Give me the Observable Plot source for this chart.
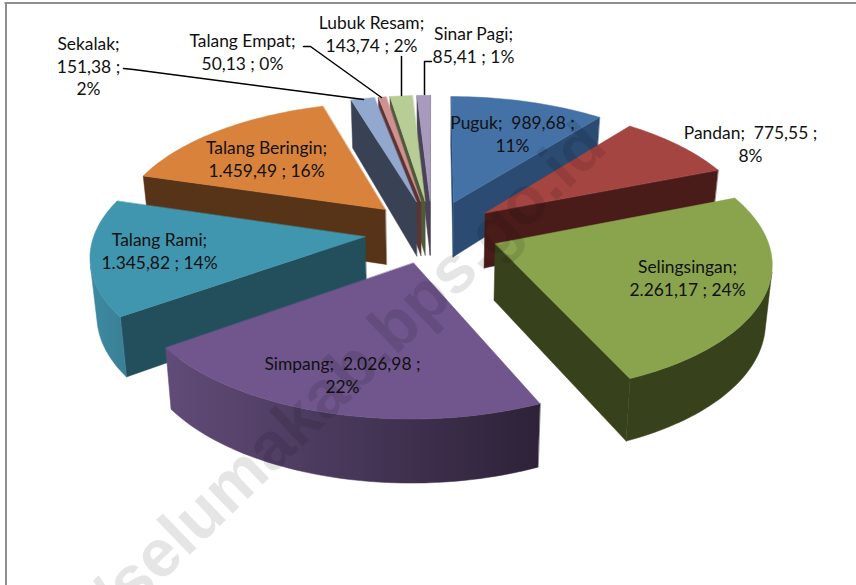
<!DOCTYPE html>
<html>
<head>
<meta charset="utf-8">
<script src="https://cdn.jsdelivr.net/npm/d3@7"></script>
<script src="https://cdn.jsdelivr.net/npm/@observablehq/plot@0.6"></script>
<style>html,body{margin:0;padding:0;background:#fff}svg{display:block}</style>
</head>
<body>
<div id="chart"></div>
<script>
// Data
const categories = ["Puguk","Pandan","Selingsingan","Simpang","Talang Rami","Talang Beringin","Sekalak","Talang Empat","Lubuk Resam","Sinar Pagi"];
const values = [989.68,775.55,2261.17,2026.98,1345.82,1459.49,151.38,50.13,143.74,85.41];
const valueLabels = ["989,68","775,55","2.261,17","2.026,98","1.345,82","1.459,49","151,38","50,13","143,74","85,41"];
const percents = ["11%","8%","24%","22%","14%","16%","2%","0%","2%","1%"];

// Styles
const topColors = ["#4472a6","#a54542","#89a44d","#70568d","#4096ae","#d9823c","#92a8ce","#d09291","#b8cc95","#a89abc"];
const radialColors = ["#2b4b72","#491c1a","#37421c","#3a2c4a","#234f5c","#573417","#394255","#5c3433","#4f5a3a","#4a4358"];
const arcColors = [["#2b4b72","#2b4b72"],["#491c1a","#491c1a"],["#37421c","#37421c"],["#614b78","#2d2238"],["#3c8ba1","#3a7f96"],["#573417","#573417"],["#394255","#394255"],["#5c3433","#5c3433"],["#4f5a3a","#4f5a3a"],["#4a4358","#4a4358"]];

// Label layout: centre of each text block, line-break style
const labelX = [512,750,687,342,159,266,88,242,371,473];
const labelY = [133,143,277,374,250,158,65,51,33,44];
const breakStyle = [1,1,0,1,0,0,2,0,0,0];
const leaders = [
  [[123,68],[133,69],[363,99]],
  [[303,46],[310,46],[381,97]],
  [[401,56],[401,95]],
  [[431,61],[424,61],[424,94]]
];

// 3D pie projection
const W = 856, H = 585;
const cx = 431.5, cy = 231, rx = 270, ry = 126.7, k = 0.13, explode = 0.25, shrink = 0.98;
const projTop = (u, v) => { const w = 1 - k * v; return [cx + rx * u / w, cy + ry * v / w]; };
const projBot = (u, v) => { const p = projTop(u, v); return [cx + (p[0] - cx) * shrink, p[1] + 56 + 6.5 * v]; };
const total = d3.sum(values);

let cum = 0;
const slices = values.map((val, i) => {
  const a0 = cum / total * 2 * Math.PI; cum += val;
  const a1 = cum / total * 2 * Math.PI;
  const m = (a0 + a1) / 2;
  return {i, a0, a1, ou: Math.sin(m) * explode, ov: -Math.cos(m) * explode};
});

const points = [];
let faceId = 0;
function addFace(pts, color) {
  const id = faceId++;
  for (const p of pts) points.push({x: p[0], y: p[1], id, color});
}
const area = q => d3.sum(q, (p, j) => { const n = q[(j + 1) % q.length]; return p[0] * n[1] - n[0] * p[1]; });
const isFront = (a, b) => area([projTop(...a), projTop(...b), projBot(...b), projBot(...a)]) < 0;
function addWall(a, b, color) {
  if (isFront(a, b)) addFace([projTop(...a), projTop(...b), projBot(...b), projBot(...a)], color);
}

const gradients = [];
const order = d3.range(slices.length).sort((p, q) => slices[p].ov - slices[q].ov);
for (const idx of order) {
  const s = slices[idx];
  const apex = [s.ou, s.ov];
  const n = Math.max(2, Math.ceil((s.a1 - s.a0) / 0.025));
  const rim = d3.range(n + 1).map(j => {
    const a = s.a0 + (s.a1 - s.a0) * j / n;
    return [s.ou + Math.sin(a), s.ov - Math.cos(a)];
  });
  addWall(apex, rim[0], radialColors[idx]);
  addWall(rim[n], apex, radialColors[idx]);
  // The visible part of the rounded wall, as one polygon with a horizontal gradient
  const run = [];
  for (let j = 0; j < n; j++) {
    if (isFront(rim[j], rim[j + 1])) {
      if (!run.length) run.push(rim[j]);
      run.push(rim[j + 1]);
    }
  }
  if (run.length) {
    const poly = [...run.map(p => projTop(...p)), ...run.slice().reverse().map(p => projBot(...p))];
    const [x0, x1] = d3.extent(poly, p => p[0]);
    gradients.push({id: `arc${idx}`, x0, x1, from: arcColors[idx][0], to: arcColors[idx][1]});
    addFace(poly, `url(#arc${idx})`);
  }
  addFace([apex, ...rim].map(p => projTop(...p)), topColors[idx]);
}

const labels = categories.map((c, i) => {
  const v = valueLabels[i], p = percents[i];
  const text = breakStyle[i] === 0 ? `${c};\n${v} ; ${p}`
             : breakStyle[i] === 1 ? `${c};  ${v} ;\n${p}`
             : `${c};\n${v} ;\n${p}`;
  return {x: labelX[i], y: labelY[i], text};
});
const leaderPts = leaders.flatMap((l, id) => l.map(p => ({x: p[0], y: p[1], id})));

function gradientDefs() {
  const defs = d3.create("svg:defs");
  for (const g of gradients) {
    const lg = defs.append("linearGradient").attr("id", g.id).attr("gradientUnits", "userSpaceOnUse")
      .attr("x1", g.x0).attr("x2", g.x1).attr("y1", 0).attr("y2", 0);
    lg.append("stop").attr("offset", 0).attr("stop-color", g.from);
    lg.append("stop").attr("offset", 1).attr("stop-color", g.to);
  }
  return defs.node();
}

const plot = Plot.plot({
  width: W, height: H,
  margin: 0,
  x: {domain: [0, W], range: [0, W], axis: null},
  y: {domain: [H, 0], range: [H, 0], axis: null},
  color: {type: "identity"},
  marks: [
    gradientDefs,
    Plot.ruleX([5.5], {y1: 2, y2: H, stroke: "#8e8e8e", strokeWidth: 2}),
    Plot.ruleY([2.5], {x1: 4.5, x2: W, stroke: "#8e8e8e", strokeWidth: 2}),
    Plot.line(points, {x: "x", y: "y", z: "id", fill: "color", stroke: "color", strokeWidth: 0.5, curve: "linear-closed"}),
    Plot.line(leaderPts, {x: "x", y: "y", z: "id", stroke: "#000", strokeWidth: 1.5, curve: "linear"}),
    Plot.text(labels, {x: "x", y: "y", text: "text", fontFamily: "Lato", fontSize: 17.4, lineHeight: 1.29, fill: "#111", textAnchor: "middle", lineAnchor: "middle"}),
    Plot.text(["/selumakab.bps.go.id"], {x: [609], y: [149], text: d => d, rotate: -44, textAnchor: "end", lineAnchor: "bottom", fontFamily: "Liberation Sans", fontWeight: "bold", fontSize: 67, fill: "#000", fillOpacity: 0.1})
  ]
});
document.getElementById("chart").append(plot);
</script>
</body>
</html>
